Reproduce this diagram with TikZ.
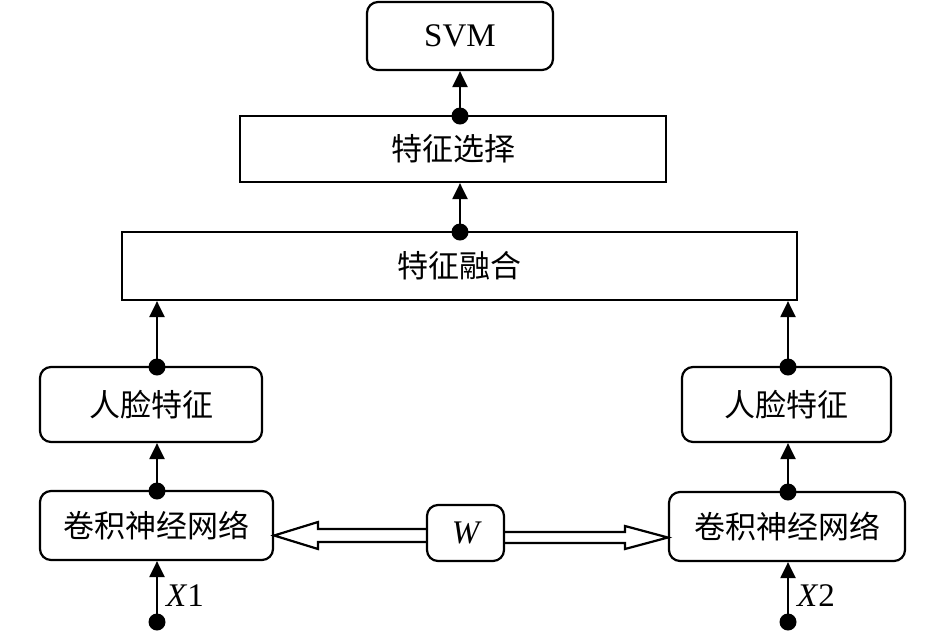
\documentclass[tikz,border=0pt]{standalone}
\usepackage{fontspec}
\setmainfont{Liberation Serif}
\newfontfamily\cjk{Noto Sans CJK SC}
\usetikzlibrary{arrows.meta}
\begin{document}
\begin{tikzpicture}[x=1pt,y=-1pt,
  rbox/.style={draw,line width=2.2pt,rounded corners=11pt,inner sep=0pt},
  sbox/.style={draw,line width=2.2pt,inner sep=0pt},
  conn/.style={line width=2.2pt,-{Triangle[length=16pt,width=15pt]}},
  dotc/.style={fill,circle,inner sep=0pt,minimum size=17pt},
  txt/.style={font=\fontsize{31}{36}\selectfont\cjk},
  lat/.style={font=\fontsize{33}{38}\selectfont},
  lati/.style={font=\fontsize{33}{38}\selectfont\itshape}]
\useasboundingbox (0,0) rectangle (946,633);
\node[rbox,minimum width=186pt,minimum height=68pt,lat] (svm) at (460,36) {SVM};
\node[sbox,minimum width=426pt,minimum height=66pt,txt] (sel) at (453,149) {特征选择};
\node[sbox,minimum width=675pt,minimum height=68pt,txt] (fus) at (459.5,266) {特征融合};
\node[rbox,minimum width=222pt,minimum height=75pt,txt] (fl) at (151,404.5) {人脸特征};
\node[rbox,minimum width=209pt,minimum height=75pt,txt] (fr) at (786.5,404.5) {人脸特征};
\node[rbox,minimum width=233pt,minimum height=69pt,txt] (cl) at (156.5,525.5) {卷积神经网络};
\node[rbox,minimum width=236pt,minimum height=69pt,txt] (cr) at (787,526.5) {卷积神经网络};
\node[rbox,minimum width=77pt,minimum height=56pt,lati] (w) at (465.5,533) {W};
% dots
\node[dotc] (d1) at (460,116) {};
\node[dotc] (d2) at (460,232) {};
\node[dotc] (d3) at (157,367) {};
\node[dotc] (d4) at (788,367) {};
\node[dotc] (d5) at (157,491) {};
\node[dotc] (d6) at (788,492) {};
\node[dotc] (d7) at (157,622) {};
\node[dotc] (d8) at (788,622) {};
\draw[conn] (d1.center) -- (d1.center |- svm.south);
\draw[conn] (d2.center) -- (d2.center |- sel.south);
\draw[conn] (d3.center) -- (d3.center |- fus.south);
\draw[conn] (d4.center) -- (d4.center |- fus.south);
\draw[conn] (d5.center) -- (d5.center |- fl.south);
\draw[conn] (d6.center) -- (d6.center |- fr.south);
\draw[conn] (d7.center) -- (d7.center |- cl.south);
\draw[conn] (d8.center) -- (d8.center |- cr.south);
\node[lati,anchor=west,inner sep=0pt] (x1) at (166,596) {X\textup{1}};
\node[lati,anchor=west,inner sep=0pt] (x2) at (797,596) {X\textup{2}};
% hollow arrows
\draw[line width=2.2pt,line join=miter] (w.west |- 0,529) -- (318,529) -- (318,522) -- (cl.east |- 0,535.5) -- (318,549) -- (318,542) -- (w.west |- 0,542);
\draw[line width=2.2pt,line join=miter] (w.east |- 0,532) -- (625,532) -- (625,526) -- (cr.west |- 0,537.5) -- (625,549) -- (625,543) -- (w.east |- 0,543);
\end{tikzpicture}
\end{document}
